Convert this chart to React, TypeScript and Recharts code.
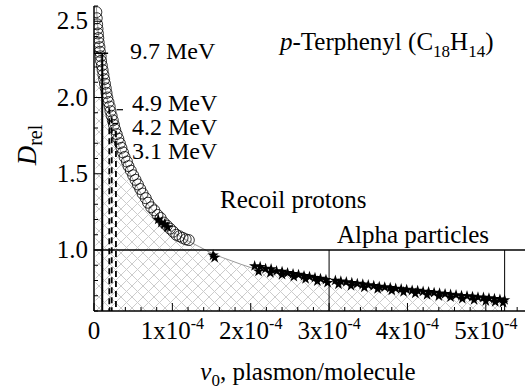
import React from 'react';
import { ComposedChart, Area, Scatter, XAxis, YAxis, ZAxis, ReferenceLine } from 'recharts';

const FONT = 'Liberation Serif';

// nu0 is kept in units of 1e-4 plasmon/molecule
const curveNu = [0.02, 0.04, 0.06, 0.08, 0.1, 0.13, 0.16, 0.2, 0.25, 0.3, 0.36, 0.43, 0.5, 0.6, 0.7, 0.8, 0.9, 1.0, 1.1, 1.2, 1.35, 1.52, 1.75, 2.0, 2.5, 3.0, 3.5, 4.0, 4.5, 5.0, 5.24];
const curveD = [2.68, 2.52, 2.4, 2.3, 2.21, 2.1, 2.01, 1.91, 1.8, 1.71, 1.62, 1.53, 1.46, 1.37, 1.29, 1.23, 1.17, 1.12, 1.09, 1.06, 1.02, 0.975, 0.93, 0.885, 0.84, 0.795, 0.76, 0.73, 0.7, 0.675, 0.655];

// recoil protons (open circles)
const protonPoints: [number, number][] = [
  [0.03, 2.56], [0.035, 2.52], [0.04, 2.48], [0.045, 2.45], [0.05, 2.42], [0.055, 2.39], [0.06, 2.36],
  [0.07, 2.33], [0.075, 2.3], [0.085, 2.27], [0.09, 2.24], [0.1, 2.21], [0.11, 2.18], [0.12, 2.15],
  [0.13, 2.12], [0.14, 2.09], [0.15, 2.06], [0.16, 2.03], [0.17, 2.0], [0.185, 1.97], [0.2, 1.94],
  [0.21, 1.91], [0.225, 1.88], [0.24, 1.85], [0.255, 1.82], [0.27, 1.79], [0.29, 1.76], [0.31, 1.73],
  [0.33, 1.7], [0.35, 1.67], [0.37, 1.64], [0.39, 1.61], [0.42, 1.58], [0.44, 1.55], [0.47, 1.52],
  [0.5, 1.49], [0.53, 1.46], [0.56, 1.43], [0.59, 1.4], [0.62, 1.37], [0.66, 1.34], [0.69, 1.31],
  [0.73, 1.28], [0.77, 1.26], [0.81, 1.23], [0.85, 1.21], [0.89, 1.18], [0.93, 1.16], [0.97, 1.14],
  [1.01, 1.12], [1.05, 1.1], [1.09, 1.09], [1.13, 1.08], [1.17, 1.07], [1.21, 1.065],
];

// alpha particles and a few proton points (filled stars)
const starPoints: [number, number][] = [
  [0.82, 1.2], [0.86, 1.18], [0.9, 1.17], [0.94, 1.15], [1.52, 0.965], [1.54, 0.95],
  [2.05, 0.895], [2.12, 0.89], [2.19, 0.878], [2.26, 0.875], [2.33, 0.862], [2.4, 0.858], [2.47, 0.85],
  [2.54, 0.843], [2.61, 0.838], [2.68, 0.83], [2.75, 0.825], [2.82, 0.818], [2.89, 0.812], [2.96, 0.805],
  [3.08, 0.8], [3.15, 0.795], [3.22, 0.79], [3.29, 0.785], [3.36, 0.779], [3.43, 0.775], [3.5, 0.77],
  [3.57, 0.765], [3.64, 0.76], [3.71, 0.756], [3.78, 0.752], [3.85, 0.747], [3.92, 0.744], [3.99, 0.74],
  [4.06, 0.735], [4.13, 0.733], [4.2, 0.728], [4.27, 0.725], [4.34, 0.72], [4.41, 0.716], [4.48, 0.712],
  [4.55, 0.708], [4.62, 0.705], [4.69, 0.7], [4.76, 0.698], [4.83, 0.694], [4.9, 0.69], [4.97, 0.688],
  [5.04, 0.684], [5.11, 0.68], [5.18, 0.676], [5.24, 0.672],
  [2.1, 0.86], [2.25, 0.85], [2.4, 0.838], [2.55, 0.825], [2.7, 0.81], [2.85, 0.795], [2.98, 0.785],
  [3.12, 0.775], [3.28, 0.765], [3.45, 0.755], [3.62, 0.745], [3.8, 0.735], [3.95, 0.725], [4.1, 0.715],
  [4.25, 0.705], [4.4, 0.698], [4.55, 0.69], [4.7, 0.68], [4.85, 0.672], [5.0, 0.665], [5.12, 0.66], [5.22, 0.655],
];

// energy thresholds: [nu0, top of the marker line]
const meVLines: [number, number][] = [[0.105, 2.29], [0.195, 1.93], [0.226, 1.87], [0.28, 1.78]];
const meVLabels = ['9.7 MeV', '4.9 MeV', '4.2 MeV', '3.1 MeV'];

const xTicks = [0, 0.2, 0.4, 0.6, 0.8, 1, 1.2, 1.4, 1.6, 1.8, 2, 2.2, 2.4, 2.6, 2.8, 3, 3.2, 3.4, 3.6, 3.8, 4, 4.2, 4.4, 4.6, 4.8, 5, 5.2, 5.4];
const yTicks = [0.6, 0.7, 0.8, 0.9, 1.0, 1.1, 1.2, 1.3, 1.4, 1.5, 1.6, 1.7, 1.8, 1.9, 2.0, 2.1, 2.2, 2.3, 2.4, 2.5, 2.6];

const curveData = curveNu.map((nu, i) => ({ nu, d: curveD[i] }));
const protonData = protonPoints.map(([nu, d]) => ({ nu, d }));
const starData = starPoints.map(([nu, d]) => ({ nu, d }));

const isMajorX = (v: number) => Math.abs(v - Math.round(v)) < 1e-6;
const isMajorY = (v: number) => Math.abs(v * 2 - Math.round(v * 2)) < 1e-6 && v > 0.95;

const txt = { fontFamily: FONT, fontSize: 25, fill: '#000' };
const meVTxt = { ...txt, fontSize: 24 };
const sub = { fontSize: 17 };

const BottomTick = (props: any) => {
  const { x, y, payload } = props;
  const v = payload.value;
  const major = isMajorX(v);
  return (
    <g>
      <line x1={x} x2={x} y1={y} y2={y - (major ? 8 : 4)} stroke="#000" />
      {major && (
        <text x={x} y={y + 28} textAnchor="middle" style={txt}>
          {v === 0 ? '0' : <><tspan>{`${v}x10`}</tspan><tspan dy={-10} style={{ fontSize: 16 }}>-4</tspan></>}
        </text>
      )}
    </g>
  );
};

const TopTick = (props: any) => {
  const { x, y, payload } = props;
  const major = isMajorX(payload.value);
  return <line x1={x} x2={x} y1={y} y2={y + (major ? 8 : 4)} stroke="#000" />;
};

const LeftTick = (props: any) => {
  const { x, y, payload } = props;
  const v = payload.value;
  const major = isMajorY(v);
  return (
    <g>
      <line x1={x} x2={x + (major ? 8 : 4)} y1={y} y2={y} stroke="#000" />
      {major && (
        <text x={x - 6} y={y + 8} textAnchor="end" style={txt}>
          {v.toFixed(1)}
        </text>
      )}
    </g>
  );
};

const RightTick = (props: any) => {
  const { x, y, payload } = props;
  const major = isMajorY(payload.value);
  return <line x1={x} x2={x - (major ? 8 : 4)} y1={y} y2={y} stroke="#000" />;
};

const OpenCircle = (p: any) => (
  <circle cx={p.cx} cy={p.cy} r={5.5} fill="none" stroke="#000" strokeWidth={0.8} />
);

const axisLine = { stroke: '#000', strokeWidth: 1.5 };

export default function App() {
  return (
    <div style={{ position: 'absolute', left: 0, top: 0 }}>
      <ComposedChart width={529} height={392} data={curveData} margin={{ top: 6, right: 4, bottom: 0, left: 0 }}>
        <defs>
          <pattern id="hatch" width={11} height={11} patternUnits="userSpaceOnUse">
            <path d="M0,0L11,11M11,0L0,11" stroke="#cccccc" strokeWidth={1} />
          </pattern>
        </defs>
        <XAxis dataKey="nu" type="number" domain={[0, 5.5]} ticks={xTicks} interval={0} allowDataOverflow
          height={81} tickSize={0} tickMargin={0} tickLine={false} axisLine={axisLine} tick={BottomTick} />
        <XAxis xAxisId="top" orientation="top" type="number" domain={[0, 5.5]} ticks={xTicks} interval={0}
          height={0} tickSize={0} tickMargin={0} tickLine={false} axisLine={axisLine} tick={TopTick} />
        <YAxis type="number" domain={[0.6, 2.6]} ticks={yTicks} interval={0} allowDataOverflow
          width={94} tickSize={0} tickMargin={0} tickLine={false} axisLine={axisLine} tick={LeftTick} />
        <YAxis yAxisId="right" orientation="right" type="number" domain={[0.6, 2.6]} ticks={yTicks} interval={0}
          width={0} tickSize={0} tickMargin={0} tickLine={false} axisLine={axisLine} tick={RightTick} />
        <ZAxis range={[40, 40]} />

        <Area dataKey="d" type="monotone" baseValue={0.6} fill="url(#hatch)" fillOpacity={1}
          stroke="#9a9a9a" strokeWidth={1} isAnimationActive={false} />

        <ReferenceLine y={1.0} stroke="#000" strokeWidth={1.5} />
        <ReferenceLine segment={[{ x: 3.0, y: 1.0 }, { x: 3.0, y: 0.6 }]} stroke="#000" strokeWidth={1} />
        <ReferenceLine segment={[{ x: 5.24, y: 1.0 }, { x: 5.24, y: 0.6 }]} stroke="#000" strokeWidth={1} />
        {meVLines.map(([nu, top], i) => (
          <ReferenceLine key={meVLabels[i]} segment={[{ x: nu, y: top }, { x: nu, y: 0.6 }]} stroke="#000"
            strokeWidth={i === 0 ? 2 : 1.8} strokeDasharray={i === 0 ? undefined : '6 4'} />
        ))}
        <ReferenceLine segment={[{ x: 0, y: 2.29 }, { x: 0.18, y: 2.29 }]} stroke="#000" strokeWidth={1.5} />
        <ReferenceLine segment={[{ x: 0.29, y: 1.92 }, { x: 0.37, y: 1.92 }]} stroke="#000" strokeWidth={1.2} />
        <ReferenceLine segment={[{ x: 0.24, y: 1.83 }, { x: 0.31, y: 1.83 }]} stroke="#000" strokeWidth={1.2} />

        <Scatter data={protonData} dataKey="d" shape={OpenCircle} isAnimationActive={false} />
        <Scatter data={starData} dataKey="d" shape="star" fill="#000" isAnimationActive={false} />

        <text x={130} y={59} style={meVTxt}>{meVLabels[0]}</text>
        <text x={132} y={111} style={meVTxt}>{meVLabels[1]}</text>
        <text x={132} y={135} style={meVTxt}>{meVLabels[2]}</text>
        <text x={132} y={159} style={meVTxt}>{meVLabels[3]}</text>
        <text x={280} y={50} style={txt}>
          <tspan style={{ fontStyle: 'italic' }}>p</tspan><tspan>-Terphenyl (C</tspan>
          <tspan dy={7} style={sub}>18</tspan><tspan dy={-7}>H</tspan>
          <tspan dy={7} style={sub}>14</tspan><tspan dy={-7}>)</tspan>
        </text>
        <text x={220} y={208} style={txt}>Recoil protons</text>
        <text x={337} y={243} style={txt}>Alpha particles</text>
        <text x={308} y={380} textAnchor="middle" style={txt}>
          <tspan style={{ fontStyle: 'italic' }}>ν</tspan><tspan dy={6} style={sub}>0</tspan>
          <tspan dy={-6}>, plasmon/molecule</tspan>
        </text>
        <text transform="translate(36,145) rotate(-90)" textAnchor="middle" style={{ ...txt, fontSize: 27 }}>
          <tspan style={{ fontStyle: 'italic' }}>D</tspan><tspan dy={6} style={{ fontSize: 20 }}>rel</tspan>
        </text>
      </ComposedChart>
    </div>
  );
}
